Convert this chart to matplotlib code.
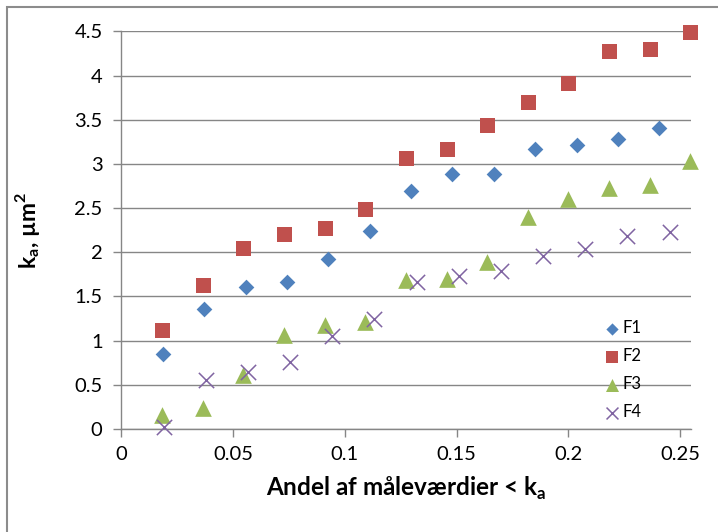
import matplotlib
matplotlib.use("Agg")
import matplotlib.pyplot as plt
from matplotlib.patches import Rectangle

# Share of measured values below k_a (x) and k_a in µm² (y) for four series
f1_x = [0.0185, 0.0370, 0.0556, 0.0741, 0.0926, 0.1111, 0.1296, 0.1481,
        0.1667, 0.1852, 0.2037, 0.2222, 0.2407]
f1_y = [0.85, 1.36, 1.61, 1.66, 1.92, 2.24, 2.69, 2.88, 2.89, 3.17, 3.21,
        3.28, 3.41]

f2_x = [0.0182, 0.0364, 0.0545, 0.0727, 0.0909, 0.1091, 0.1273, 0.1455,
        0.1636, 0.1818, 0.2000, 0.2182, 0.2364, 0.2545]
f2_y = [1.12, 1.63, 2.05, 2.21, 2.27, 2.49, 3.07, 3.17, 3.44, 3.70, 3.91,
        4.28, 4.30, 4.49]

f3_x = [0.0182, 0.0364, 0.0545, 0.0727, 0.0909, 0.1091, 0.1273, 0.1455,
        0.1636, 0.1818, 0.2000, 0.2182, 0.2364, 0.2545]
f3_y = [0.16, 0.24, 0.61, 1.06, 1.18, 1.21, 1.69, 1.70, 1.89, 2.40, 2.60,
        2.73, 2.76, 3.03]

f4_x = [0.0189, 0.0377, 0.0566, 0.0755, 0.0943, 0.1132, 0.1321, 0.1509,
        0.1698, 0.1887, 0.2075, 0.2264, 0.2453]
f4_y = [0.02, 0.55, 0.65, 0.76, 1.05, 1.24, 1.66, 1.73, 1.79, 1.96, 2.04,
        2.18, 2.23]

x_ticks = [0, 0.05, 0.1, 0.15, 0.2, 0.25]
x_tick_labels = ["0", "0.05", "0.1", "0.15", "0.2", "0.25"]
y_ticks = [0, 0.5, 1, 1.5, 2, 2.5, 3, 3.5, 4, 4.5]
y_tick_labels = ["0", "0.5", "1", "1.5", "2", "2.5", "3", "3.5", "4", "4.5"]

plt.rcParams["font.family"] = ["Lato", "DejaVu Sans"]

BLUE = "#4F81BD"
RED = "#C0504D"
GREEN = "#9BBB59"
PURPLE = "#8064A2"
GRID = "#868686"

fig = plt.figure(figsize=(7.18, 5.32), dpi=100)
ax = fig.add_axes([0.169, 0.1936, 0.794, 0.7475])

ax.scatter(f1_x, f1_y, marker="D", s=8.0 ** 2, color=BLUE, linewidths=0,
           label="F1", zorder=3, clip_on=False)
ax.scatter(f2_x, f2_y, marker="s", s=10.8 ** 2, color=RED, linewidths=0,
           label="F2", zorder=3, clip_on=False)
ax.scatter(f3_x, f3_y, marker="^", s=12.0 ** 2, color=GREEN, linewidths=0,
           label="F3", zorder=3, clip_on=False)
ax.scatter(f4_x, f4_y, marker="x", s=11.0 ** 2, color=PURPLE, linewidths=1.1,
           label="F4", zorder=4, clip_on=False)

ax.set_xlim(0, 0.255)
ax.set_ylim(0, 4.5)
ax.set_xticks(x_ticks, x_tick_labels)
ax.set_yticks(y_ticks, y_tick_labels)

ax.grid(axis="y", color=GRID, linewidth=1.0)
ax.set_axisbelow(True)
for side in ("top", "right"):
    ax.spines[side].set_visible(False)
for side in ("left", "bottom"):
    ax.spines[side].set_color(GRID)
    ax.spines[side].set_linewidth(1.0)

ax.tick_params(axis="both", colors=GRID, labelcolor="black", labelsize=14.5,
               length=5.5, width=1.0, direction="out")
ax.tick_params(axis="y", pad=8)
ax.tick_params(axis="x", pad=7)

ax.set_xlabel(r"Andel af måleværdier < k$_\mathregular{a}$", fontsize=17.5,
              fontweight="bold")
ax.set_ylabel(r"k$_\mathregular{a}$, µm$^\mathregular{2}$", fontsize=16.5,
              fontweight="bold")
ax.xaxis.set_label_coords(0.5, -0.115)
ax.yaxis.set_label_coords(-0.14, 0.5)

leg = ax.legend(loc="upper left", bbox_to_anchor=(0.84, 0.29), frameon=False,
                fontsize=12, handlelength=0.6, handletextpad=0.35,
                labelspacing=0.72, markerscale=0.78, borderaxespad=0)

# Thin grey border of the chart area
fig.patches.append(Rectangle((7 / 718, -0.05), 1.2, 1 - 7 / 532 + 0.05,
                             transform=fig.transFigure, fill=False,
                             edgecolor="#8C8C8C", linewidth=1.5))

fig.savefig("out.png", dpi=100)
